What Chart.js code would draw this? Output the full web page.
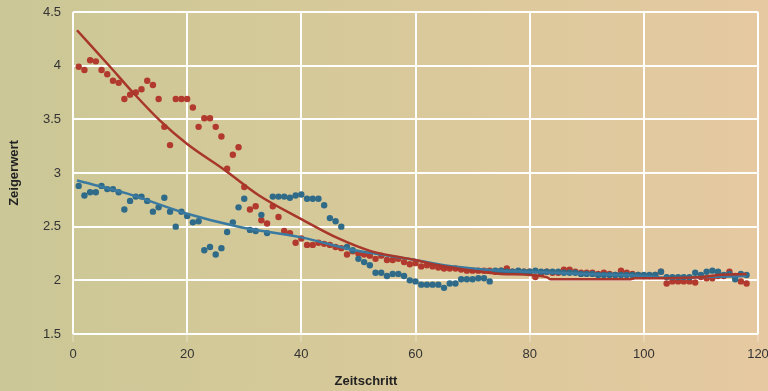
<!DOCTYPE html>
<html>
<head>
<meta charset="utf-8">
<script src="https://cdn.jsdelivr.net/npm/chart.js@4/dist/chart.umd.min.js"></script>
<style>
  html, body { margin: 0; padding: 0; }
  body {
    width: 768px; height: 391px; overflow: hidden;
    background: linear-gradient(to right, #cbc796 0%, #d8c99a 50%, #e6c9a1 100%);
  }
  canvas { display: block; }
</style>
</head>
<body>
<canvas id="chart" width="768" height="391"></canvas>
<script>
// time steps 1..118
const steps = [
  1, 2, 3, 4, 5, 6, 7, 8, 9, 10, 11, 12, 13, 14, 15, 16, 17, 18, 19, 20,
  21, 22, 23, 24, 25, 26, 27, 28, 29, 30, 31, 32, 33, 34, 35, 36, 37, 38, 39, 40,
  41, 42, 43, 44, 45, 46, 47, 48, 49, 50, 51, 52, 53, 54, 55, 56, 57, 58, 59, 60,
  61, 62, 63, 64, 65, 66, 67, 68, 69, 70, 71, 72, 73, 74, 75, 76, 77, 78, 79, 80,
  81, 82, 83, 84, 85, 86, 87, 88, 89, 90, 91, 92, 93, 94, 95, 96, 97, 98, 99, 100,
  101, 102, 103, 104, 105, 106, 107, 108, 109, 110, 111, 112, 113, 114, 115, 116, 117, 118
];

const redValues = [
  3.99, 3.96, 4.05, 4.04, 3.96, 3.92, 3.86, 3.84, 3.69, 3.73,
  3.75, 3.78, 3.86, 3.82, 3.69, 3.43, 3.26, 3.69, 3.69, 3.69,
  3.61, 3.43, 3.51, 3.51, 3.43, 3.34, 3.04, 3.17, 3.24, 2.87,
  2.66, 2.69, 2.56, 2.53, 2.69, 2.59, 2.46, 2.44, 2.35, 2.39,
  2.33, 2.33, 2.35, 2.34, 2.33, 2.31, 2.30, 2.24, 2.27, 2.25,
  2.24, 2.23, 2.20, 2.23, 2.19, 2.19, 2.20, 2.17, 2.15, 2.16,
  2.13, 2.14, 2.13, 2.12, 2.11, 2.11, 2.11, 2.10, 2.09, 2.09,
  2.09, 2.09, 2.09, 2.08, 2.09, 2.11, 2.08, 2.08, 2.08, 2.08,
  2.03, 2.06, 2.08, 2.07, 2.07, 2.10, 2.10, 2.08, 2.07, 2.07,
  2.07, 2.06, 2.07, 2.06, 2.05, 2.09, 2.07, 2.06, 2.05, 2.04,
  2.04, 2.05, 2.08, 1.97, 1.99, 1.99, 1.99, 1.99, 1.98, 2.03,
  2.02, 2.02, 2.04, 2.04, 2.08, 2.04, 1.99, 1.97
];

const blueValues = [
  2.88, 2.79, 2.82, 2.82, 2.88, 2.85, 2.85, 2.82, 2.66, 2.74,
  2.78, 2.78, 2.74, 2.64, 2.68, 2.77, 2.64, 2.50, 2.64, 2.60,
  2.54, 2.55, 2.28, 2.31, 2.24, 2.30, 2.45, 2.54, 2.68, 2.76,
  2.47, 2.46, 2.61, 2.44, 2.78, 2.78, 2.78, 2.77, 2.79, 2.80,
  2.76, 2.76, 2.76, 2.70, 2.58, 2.55, 2.50, 2.31, 2.28, 2.20,
  2.17, 2.14, 2.07, 2.07, 2.04, 2.06, 2.06, 2.04, 2.00, 1.99,
  1.96, 1.96, 1.96, 1.96, 1.93, 1.97, 1.97, 2.01, 2.01, 2.01,
  2.02, 2.02, 1.99, 2.09, 2.09, 2.08, 2.08, 2.09, 2.08, 2.08,
  2.09, 2.08, 2.08, 2.08, 2.08, 2.07, 2.07, 2.07, 2.06, 2.06,
  2.06, 2.05, 2.05, 2.05, 2.05, 2.05, 2.05, 2.05, 2.05, 2.05,
  2.05, 2.05, 2.08, 2.03, 2.03, 2.03, 2.03, 2.03, 2.07, 2.05,
  2.08, 2.09, 2.08, 2.05, 2.06, 2.01, 2.06, 2.05
];

// smoothed trend lines
const redFitX = [0.7, 6.5, 10.5, 15.2, 20, 26.5, 32.6, 40, 46.5, 52.3, 60, 64, 70, 75, 83, 83.6, 97.5, 98.5, 104, 110, 113, 118];
const redFitY = [4.33, 3.99, 3.75, 3.49, 3.27, 3.03, 2.79, 2.57, 2.39, 2.27, 2.19, 2.14, 2.09, 2.06, 2.03, 2.01, 2.01, 2.02, 2.02, 2.03, 2.05, 2.06];

const blueFitX = [0.7, 9.4, 20, 29, 40, 49.4, 60, 65, 70, 75, 80, 90, 100, 105, 110, 118];
const blueFitY = [2.93, 2.81, 2.62, 2.50, 2.40, 2.28, 2.19, 2.14, 2.11, 2.09, 2.08, 2.06, 2.04, 2.02, 2.03, 2.04];

const xTicks = [0, 20, 40, 60, 80, 100, 120];
const yTicks = [1.5, 2, 2.5, 3, 3.5, 4, 4.5];

const RED = '#b2392d';
const BLUE = '#2f6b88';
const RED_LINE = '#a8362b';
const BLUE_LINE = '#3a7aa0';

const pairs = (xs, ys) => xs.map((x, i) => ({x: x, y: ys[i]}));

const FAMILY = 'Liberation Sans, Arial, sans-serif';
const tickFont = {family: FAMILY, size: 13};
const titleFont = {family: FAMILY, size: 13, weight: 'bold'};

// x axis title sits left of centre in the original
const xTitle = {
  id: 'xTitle',
  afterDraw(chart) {
    const ctx = chart.ctx;
    ctx.save();
    ctx.font = 'bold 13px ' + FAMILY;
    ctx.fillStyle = '#222222';
    ctx.textAlign = 'center';
    ctx.textBaseline = 'middle';
    ctx.fillText('Zeitschritt', 366, 381);
    ctx.restore();
  }
};

new Chart(document.getElementById('chart').getContext('2d'), {
  type: 'scatter',
  data: {
    datasets: [
      {
        label: 'Trend rot',
        data: pairs(redFitX, redFitY),
        showLine: true,
        borderColor: RED_LINE,
        borderWidth: 2.5,
        pointRadius: 0,
        cubicInterpolationMode: 'monotone'
      },
      {
        label: 'Trend blau',
        data: pairs(blueFitX, blueFitY),
        showLine: true,
        borderColor: BLUE_LINE,
        borderWidth: 2.5,
        pointRadius: 0,
        cubicInterpolationMode: 'monotone'
      },
      {
        label: 'blau',
        data: pairs(steps, blueValues),
        backgroundColor: BLUE,
        borderWidth: 0,
        pointRadius: 3.2
      },
      {
        label: 'rot',
        data: pairs(steps, redValues),
        backgroundColor: RED,
        borderWidth: 0,
        pointRadius: 3.2
      }
    ]
  },
  options: {
    responsive: false,
    animation: false,
    devicePixelRatio: 1,
    layout: {padding: {top: 12, right: 10, left: 0, bottom: 0}},
    plugins: {legend: {display: false}, tooltip: {enabled: false}},
    scales: {
      x: {
        type: 'linear',
        min: 0,
        max: 120,
        afterBuildTicks: (scale) => { scale.ticks = xTicks.map(v => ({value: v})); },
        afterFit: (scale) => { scale.height = 57; scale.paddingLeft = 0; scale.paddingRight = 0; },
        grid: {color: '#ffffff', lineWidth: 2, tickLength: 8, tickColor: 'rgba(255,255,255,0.45)', tickWidth: 1},
        border: {display: false},
        ticks: {color: '#333333', font: tickFont, padding: 5, maxRotation: 0, callback: (v) => String(v)}
      },
      y: {
        type: 'linear',
        min: 1.5,
        max: 4.5,
        afterBuildTicks: (scale) => { scale.ticks = yTicks.map(v => ({value: v})); },
        afterFit: (scale) => { scale.width = 73; scale.paddingTop = 0; scale.paddingBottom = 0; },
        grid: {color: '#ffffff', lineWidth: 2, drawTicks: false},
        border: {display: false},
        ticks: {color: '#333333', font: tickFont, padding: 12, callback: (v) => String(v)},
        title: {display: true, text: 'Zeigerwert', color: '#222222', font: titleFont, padding: {top: 7, bottom: 0}}
      }
    }
  },
  plugins: [xTitle]
});
</script>
</body>
</html>
